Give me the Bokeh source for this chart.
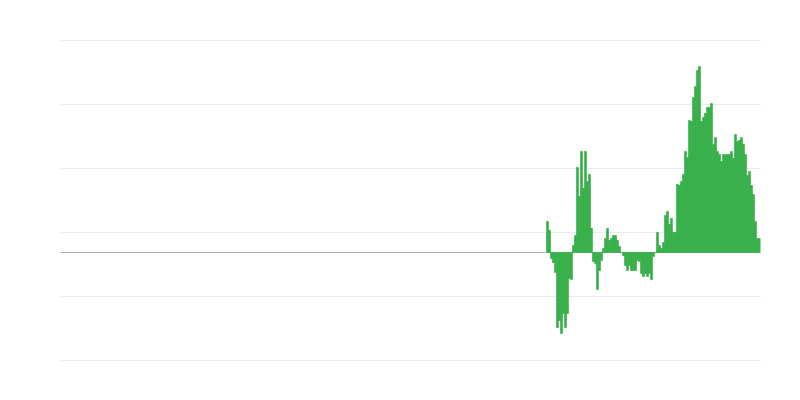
from bokeh.plotting import figure
from bokeh.models import Range1d, FixedTicker, Span, ColumnDataSource
from bokeh.embed import file_html
from bokeh.resources import INLINE

# ---- data ----
total_slots = 350          # number of periods on the x axis
first_index = 243          # first period that carries a value
values = [
    31, 22, -6, -10, -20, -75, -68, -81, -61, -75,
    -61, -26, -27, 7, 17, 85, 56, 101, 64, 101,
    71, 78, 24, -9, -11, -37, -18, -8, 4, 14,
    24, 12, 14, 17, 17, 12, 6, 0, -3, -13,
    -18, -13, -18, -18, -18, -8, -9, -21, -24, -21,
    -24, -21, -27, -4, 0, 20, 7, 4, 10, 37,
    41, 28, 34, 20, 20, 68, 67, 71, 78, 101,
    95, 132, 131, 155, 166, 182, 186, 131, 135, 139,
    145, 145, 149, 108, 115, 101, 98, 91, 98, 98,
    98, 98, 101, 94, 118, 111, 112, 115, 108, 98,
    77, 81, 67, 58, 31, 14, 14,
]
grid_ticks = [-108, -44, 20, 84, 148, 212]
y_min, y_max = -109, 213

x = [first_index + i + 0.5 for i in range(len(values))]
src = ColumnDataSource(data=dict(x=x, top=values))

p = figure(width=792, height=392, output_backend="svg", toolbar_location=None,
           x_range=Range1d(0, total_slots), y_range=Range1d(y_min, y_max),
           min_border_left=60, min_border_right=32,
           min_border_top=39, min_border_bottom=31)
p.outline_line_color = None
p.background_fill_color = "white"
p.border_fill_color = "white"

p.xaxis.visible = False
p.yaxis.visible = False
p.xgrid.visible = False
p.ygrid.ticker = FixedTicker(ticks=grid_ticks)
p.ygrid.grid_line_color = "#ebebeb"
p.ygrid.grid_line_width = 1

p.vbar(x="x", top="top", bottom=0, width=0.9, source=src,
       fill_color="#39b14b", line_color="#39b14b", line_width=0.8)

p.add_layout(Span(location=0, dimension="width", line_color="#b0b0b0",
                  line_width=1, level="underlay"))

open("out.html", "w").write(file_html(p, INLINE))
